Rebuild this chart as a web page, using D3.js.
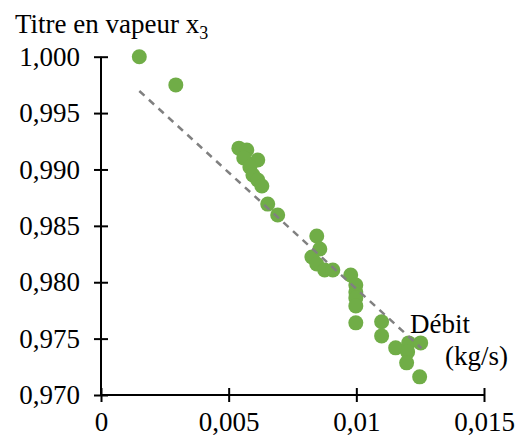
<!DOCTYPE html>
<html>
<head>
    <meta charset="UTF-8">
    <title>Titre en vapeur x3</title>
    <script src="https://d3js.org/d3.v7.min.js"></script>
    <style>
        body { margin: 0; background: #fff; }
        svg text, svg tspan { font-family: "Liberation Serif", serif !important; }
    </style>
</head>
<body>
    <script>
        // Data
        const debit = [0.0015, 0.00293, 0.0054, 0.00571, 0.00559, 0.00614, 0.00583, 0.00595, 0.00614, 0.0063,
            0.00653, 0.00692, 0.00845, 0.00857, 0.00826, 0.00845, 0.00876, 0.00908, 0.00978, 0.00998,
            0.00998, 0.00998, 0.00998, 0.00998, 0.01099, 0.01099, 0.01154, 0.01205, 0.01201, 0.01252,
            0.01197, 0.01248];
        const titre = [1.0000, 0.9975, 0.99189, 0.99172, 0.99102, 0.99084, 0.99022, 0.98951, 0.98906, 0.98853,
            0.98693, 0.98596, 0.9841, 0.98295, 0.98224, 0.98162, 0.98109, 0.98109, 0.98064, 0.97976,
            0.97914, 0.97861, 0.9779, 0.9764, 0.97649, 0.97524, 0.97418, 0.97462, 0.97382, 0.97462,
            0.97285, 0.97161];
        // Linear trend line end points
        const trendX = [0.0015, 0.01255];
        const trendY = [0.99696, 0.97415];
        const xTicks = [0, 0.005, 0.01, 0.015];
        const xTickLabels = ["0", "0,005", "0,01", "0,015"];
        const yTicks = [0.970, 0.975, 0.980, 0.985, 0.990, 0.995, 1.000];

        const width = 516, height = 437;
        const font = "Liberation Serif";
        const fontSize = "27px";
        const svg = d3.select("body").append("svg")
            .attr("width", width)
            .attr("height", height)
            .style("font-family", font);

        const x = d3.scaleLinear().domain([0, 0.015]).range([101, 484]);
        const y = d3.scaleLinear().domain([0.970, 1.000]).range([395, 56.7]);

        const fmtY = v => d3.format(".3f")(v).replace(".", ",");

        // Y axis (ticks cross the axis line)
        const yAxis = svg.append("g")
            .attr("transform", `translate(${x(0)},0)`)
            .call(d3.axisLeft(y).tickValues(yTicks).tickSize(7).tickPadding(14).tickFormat(fmtY));
        yAxis.selectAll(".tick line").attr("x1", 7);

        // X axis
        const xAxis = svg.append("g")
            .attr("transform", `translate(0,${y(0.970)})`)
            .call(d3.axisBottom(x).tickValues(xTicks).tickSize(7).tickPadding(10)
                .tickFormat((d, i) => xTickLabels[i]));
        xAxis.selectAll(".tick line").attr("y1", -7);

        svg.selectAll(".domain").remove();
        svg.selectAll("g").attr("font-family", null).attr("font-size", null);
        svg.append("line")
            .attr("x1", x(0)).attr("x2", x(0))
            .attr("y1", y(1.000)).attr("y2", y(0.970))
            .attr("stroke", "#000").attr("stroke-width", 2);
        svg.append("line")
            .attr("x1", x(0)).attr("x2", x(0.015))
            .attr("y1", y(0.970)).attr("y2", y(0.970))
            .attr("stroke", "#000").attr("stroke-width", 2);

        svg.selectAll(".tick line").attr("stroke", "#000").attr("stroke-width", 2);
        svg.selectAll(".tick text")
            .style("font-size", fontSize)
            .attr("fill", "#000");

        // Points
        svg.append("g").selectAll("circle")
            .data(debit.map((d, i) => [d, titre[i]]))
            .join("circle")
            .attr("cx", d => x(d[0]))
            .attr("cy", d => y(d[1]))
            .attr("r", 7.5)
            .attr("fill", "#70AD47");

        // Trend line
        svg.append("line")
            .attr("x1", x(trendX[0])).attr("y1", y(trendY[0]))
            .attr("x2", x(trendX[1])).attr("y2", y(trendY[1]))
            .attr("stroke", "#808080")
            .attr("stroke-width", 2.5)
            .attr("stroke-dasharray", "7,6");

        // Titles
        const title = svg.append("text")
            .attr("x", 15).attr("y", 33)
            .style("font-size", fontSize);
        title.append("tspan").text("Titre en vapeur x");
        title.append("tspan").style("font-size", "18px").attr("dy", 6).text("3");

        svg.append("text").attr("x", 410).attr("y", 333)
            .style("font-size", fontSize).text("Débit");
        svg.append("text").attr("x", 445).attr("y", 365)
            .style("font-size", fontSize).text("(kg/s)");
    </script>
</body>
</html>
